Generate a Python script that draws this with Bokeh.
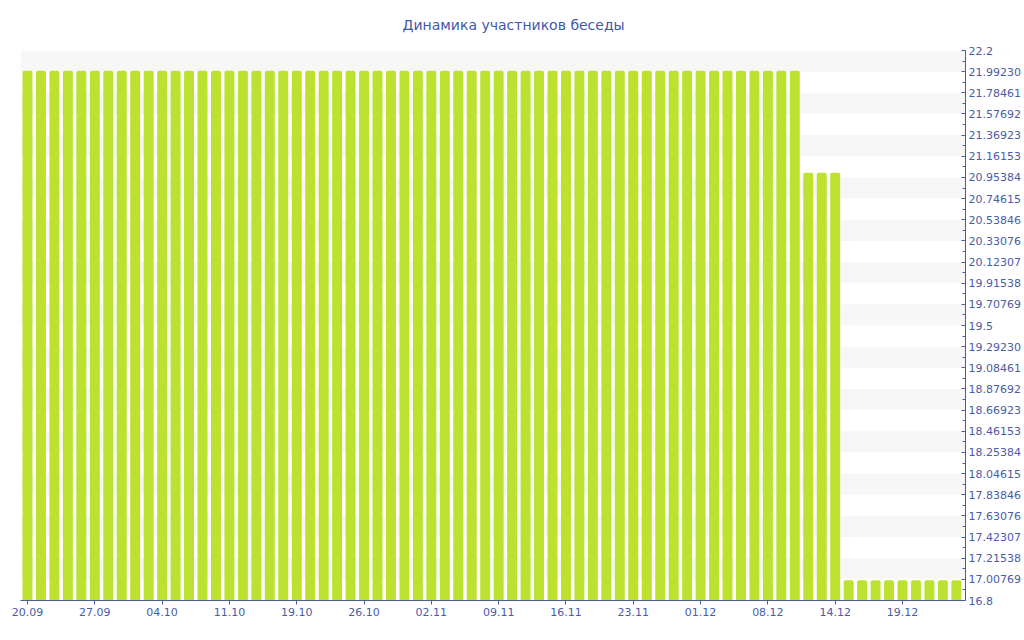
from bokeh.plotting import figure
from bokeh.models import FixedTicker, ColumnDataSource, Title
from bokeh.embed import file_html
from bokeh.resources import INLINE

dates = [
    "20.09", "21.09", "22.09", "24.09", "25.09",
    "27.09", "28.09", "29.09", "01.10", "02.10",
    "04.10", "05.10", "07.10", "08.10", "10.10",
    "11.10", "13.10", "14.10", "16.10", "17.10",
    "19.10", "20.10", "22.10", "23.10", "25.10",
    "26.10", "27.10", "29.10", "30.10", "01.11",
    "02.11", "03.11", "05.11", "06.11", "08.11",
    "09.11", "10.11", "12.11", "13.11", "15.11",
    "16.11", "17.11", "19.11", "20.11", "22.11",
    "23.11", "25.11", "26.11", "28.11", "29.11",
    "01.12", "02.12", "04.12", "05.12", "07.12",
    "08.12", "09.12", "10.12", "12.12", "13.12",
    "14.12", "15.12", "16.12", "17.12", "18.12",
    "19.12", "20.12", "21.12", "22.12", "23.12",
]
members = [22] * 58 + [21] * 3 + [17] * 9
title = "Динамика участников беседы"

y_min, y_max = 16.8, 22.2
n_intervals = 26
label_every = 5

BAR = "#bde12f"
BLUE = "#4a5ca6"
FONT = "DejaVu Sans"

idx = list(range(len(dates)))
src = ColumnDataSource(dict(x=idx, y=members))

p = figure(width=1024, height=640, output_backend="svg", toolbar_location=None,
           title=None,
           x_range=(-0.52, len(dates) - 0.32), y_range=(y_min, y_max),
           y_axis_location="right",
           min_border_left=20, min_border_top=50, min_border_bottom=40, min_border_right=59)
p.outline_line_color = None
p.background_fill_color = "white"

# spacer between frame and title
p.add_layout(Title(text=" ", text_font_size="1px"), "above")
p.add_layout(Title(text=title, align="left", offset=382, text_font=FONT,
                   text_font_size="14px", text_font_style="normal",
                   text_color="#3f58a6"), "above")

p.vbar(x="x", top="y", bottom=y_min, width=0.74, source=src,
       fill_color=BAR, line_color=None, border_radius=(2, 2, 0, 0))

step = (y_max - y_min) / n_intervals
major = [y_min + i * step for i in range(n_intervals + 1)]
minor = [y_min + i * step / 2 for i in range(2 * n_intervals + 1)]
yax = p.yaxis[0]
yax.ticker = FixedTicker(ticks=major, minor_ticks=minor)
yax.major_label_overrides = {v: (str(round(v, 10)))[:8] for v in major}
yax.axis_line_color = BLUE
yax.major_tick_line_color = BLUE
yax.minor_tick_line_color = BLUE
yax.major_tick_in = 4
yax.major_tick_out = 0
yax.minor_tick_in = 3
yax.minor_tick_out = 0
yax.major_label_standoff = 3
yax.major_label_text_font = FONT
yax.major_label_text_font_size = "11px"
yax.major_label_text_color = BLUE

xax = p.xaxis[0]
xt = idx[::label_every]
xax.ticker = FixedTicker(ticks=xt, minor_ticks=[])
xax.major_label_overrides = {i: dates[i] for i in xt}
xax.axis_line_color = BLUE
xax.major_tick_line_color = BLUE
xax.major_tick_in = 0
xax.major_tick_out = 4
xax.minor_tick_line_color = None
xax.major_label_standoff = 3
xax.major_label_text_font = FONT
xax.major_label_text_font_size = "11px"
xax.major_label_text_color = BLUE

p.xgrid.visible = False
p.ygrid.grid_line_color = None
p.ygrid.band_fill_color = "#f7f7f7"
p.ygrid.band_fill_alpha = 1

open("out.html", "w").write(file_html(p, INLINE))
